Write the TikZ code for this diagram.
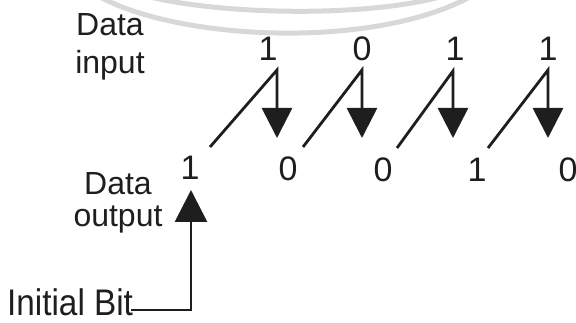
\documentclass[tikz,border=0pt]{standalone}
\usepackage{fontspec}
\setmainfont{Liberation Sans}
\usetikzlibrary{arrows.meta}
\definecolor{ink}{HTML}{1E1E1E}
\definecolor{wm}{HTML}{D8D8D8}
\begin{document}
\begin{tikzpicture}[x=1pt,y=-1pt,
  bit/.style={inner sep=0pt,text=ink,font=\fontsize{34}{36}\selectfont},
  txt/.style={inner sep=0pt,text=ink,anchor=base,text height=23pt,text depth=1pt,font=\fontsize{32}{34}\selectfont},
  desc/.style={text depth=7pt},
  wire/.style={draw=ink,line width=2.8pt},
  downarrow/.style={wire,line join=miter,-{Triangle[width=30pt,length=30pt,fill=ink]}},
  uparrow/.style={wire,-{Triangle[width=32pt,length=32pt,fill=ink]}},
  wmarc/.style={draw=wm,line width=5pt}]
\useasboundingbox (0,0) rectangle (576,323);
% faint watermark arcs
\draw[wmarc] (100,-3) .. controls (180,40) and (370,50) .. (470,-3);
\draw[wmarc] (150,-3) .. controls (220,14) and (360,18) .. (440,-3);
% labels
\node[txt] (din1) at (110,36) {Data};
\node[txt,desc] (din2) at (110,74) {input};
\node[txt] (dout1) at (118,195) {Data};
\node[txt,desc] (dout2) at (118,227) {output};
\node[txt,anchor=base west,xscale=0.9,text height=27pt,text depth=0pt,font=\fontsize{37}{39}\selectfont] (ib) at (7,316) {Initial Bit};
% input bits
\node[bit] (i1) at (268,49) {1};
\node[bit] (i2) at (362,49) {0};
\node[bit] (i3) at (455,49) {1};
\node[bit] (i4) at (548,49) {1};
% output bits
\node[bit] (o1) at (190,168) {1};
\node[bit] (o2) at (288,169) {0};
\node[bit] (o3) at (383,170) {0};
\node[bit] (o4) at (477,170) {1};
\node[bit] (o5) at (568,170) {0};
% shift arrows
\coordinate (s1) at (210,147); \coordinate (t1) at (277,70); \coordinate (e1) at (277,138);
\coordinate (s2) at (303,147); \coordinate (t2) at (362,70); \coordinate (e2) at (362,138);
\coordinate (s3) at (397,148); \coordinate (t3) at (453,71); \coordinate (e3) at (453,138);
\coordinate (s4) at (488,148); \coordinate (t4) at (548,70); \coordinate (e4) at (548,138);
\draw[downarrow] (s1) -- (t1) -- (e1);
\draw[downarrow] (s2) -- (t2) -- (e2);
\draw[downarrow] (s3) -- (t3) -- (e3);
\draw[downarrow] (s4) -- (t4) -- (e4);
% initial bit arrow
\coordinate (ibend) at (131,310);
\coordinate (up) at (191,190);
\draw[uparrow] (ibend) -| (up);
\end{tikzpicture}
\end{document}
